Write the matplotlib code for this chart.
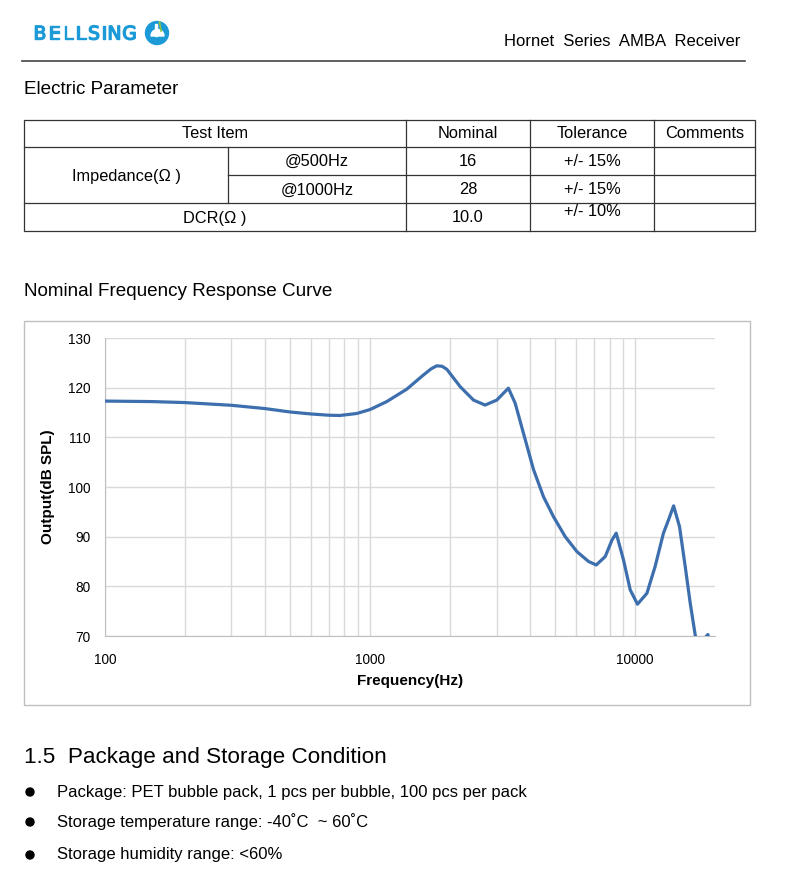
import matplotlib.pyplot as plt
import matplotlib.patheffects as pe
from matplotlib.patches import Circle, Rectangle, Wedge
from matplotlib.ticker import FixedLocator, NullFormatter

plt.rcParams["font.family"] = ["Liberation Sans", "DejaVu Sans"]

W, H = 790, 880
BLUE_LINE = "#3d6fae"
GRID = "#d9d9d9"
LOGO = "#1b9ad7"

# frequency response
freq = [100, 150, 200, 300, 400, 500, 600, 700, 770, 890, 1000, 1156, 1375,
        1589, 1700, 1785, 1870, 1947, 2187, 2455, 2715, 3005, 3325, 3527, 3790,
        4135, 4508, 4920, 5445, 6026, 6668, 7130, 7710, 8170, 8480, 9035, 9575,
        10200, 11070, 11890, 12780, 13360, 13960, 14700, 15440, 16130, 16840,
        17400, 18200, 18800, 19300]
spl = [117.3, 117.2, 117.0, 116.45, 115.8, 115.1, 114.7, 114.45, 114.4, 114.8,
       115.6, 117.2, 119.7, 122.55, 123.8, 124.4, 124.3, 123.7, 120.2, 117.5,
       116.5, 117.5, 119.9, 116.85, 110.8, 103.5, 98.05, 94.0, 90.0, 87.0, 85.0,
       84.3, 86.0, 89.3, 90.7, 85.3, 79.3, 76.4, 78.6, 84.0, 90.7, 93.4, 96.2,
       92.0, 84.0, 76.6, 70.2, 67.5, 69.4, 70.3, 68.0]
y_ticks = [70, 80, 90, 100, 110, 120, 130]
x_ticks = [100, 1000, 10000]

table_header = ["Test Item", "Nominal", "Tolerance", "Comments"]
imp_rows = [("@500Hz", "16", "+/- 15%"), ("@1000Hz", "28", "+/- 15%")]
dcr_row = ("DCR(Ω )", "10.0", "+/- 10%")
bullets = [
    "Package: PET bubble pack, 1 pcs per bubble, 100 pcs per pack",
    "Storage temperature range: -40\u02daC  ~ 60\u02daC",
    "Storage humidity range: <60%",
]

fig = plt.figure(figsize=(W / 100, H / 100), dpi=100)
page = fig.add_axes([0, 0, 1, 1])
page.set_xlim(0, W)
page.set_ylim(H, 0)
page.axis("off")

# header: logo letters spaced out like the wide logotype
logo_x = [40, 54.5, 68, 80.5, 94, 104, 114.5, 129.5]
for x, ch in zip(logo_x, "BELLSING"):
    page.text(x, 34, ch, color=LOGO, fontsize=13.5, family="DejaVu Sans",
              ha="center", va="center",
              path_effects=[pe.withStroke(linewidth=1.0, foreground=LOGO)])
page.add_patch(Circle((157, 33), 11.5, color=LOGO))
page.add_patch(Wedge((157.5, 36), 6.5, 180, 360, color="white"))
page.add_patch(Rectangle((154.5, 24), 2.8, 12, color="white"))
page.plot([159.5, 161], [22, 31], color="#8cc63f", lw=1.2)
page.text(740, 42, "Hornet  Series  AMBA  Receiver", fontsize=12, ha="right", va="center")
page.plot([22, 745], [61, 61], color="#444444", lw=1.2)

# electric parameter table
page.text(24, 89, "Electric Parameter", fontsize=13.6, va="center")
cols = [24, 228, 406, 530, 654, 755]
rows = [120, 147, 175, 203, 231]
lc = "#333333"
page.add_patch(Rectangle((cols[0], rows[0]), cols[-1] - cols[0], rows[-1] - rows[0],
                         fill=False, ec=lc, lw=0.9))
for y in [rows[1], rows[3]]:
    page.plot([cols[0], cols[-1]], [y, y], color=lc, lw=0.9)
page.plot([cols[1], cols[-1]], [rows[2], rows[2]], color=lc, lw=0.9)
page.plot([cols[1], cols[1]], [rows[1], rows[3]], color=lc, lw=0.9)
for x in cols[2:5]:
    page.plot([x, x], [rows[0], rows[-1]], color=lc, lw=0.9)

fs = 11.8
centers = [(cols[0] + cols[2]) / 2, (cols[2] + cols[3]) / 2,
           (cols[3] + cols[4]) / 2, (cols[4] + cols[5]) / 2]
for cx, label in zip(centers, table_header):
    page.text(cx, 134, label, fontsize=fs, ha="center", va="center")
page.text((cols[0] + cols[1]) / 2, 176, "Impedance(Ω )", fontsize=fs, ha="center", va="center")
for (freq_lbl, nom, tol), y in zip(imp_rows, [161, 190]):
    page.text((cols[1] + cols[2]) / 2, y, freq_lbl, fontsize=fs, ha="center", va="center")
    page.text(centers[1], y, nom, fontsize=fs, ha="center", va="center")
    page.text(centers[2], y, tol, fontsize=fs, ha="center", va="center")
page.text(centers[0], 218, dcr_row[0], fontsize=fs, ha="center", va="center")
page.text(centers[1], 218, dcr_row[1], fontsize=fs, ha="center", va="center")
page.text(centers[2], 212, dcr_row[2], fontsize=fs, ha="center", va="center")

# chart block
page.text(24, 291, "Nominal Frequency Response Curve", fontsize=13.6, va="center")
page.add_patch(Rectangle((24, 321), 726, 384, fill=False, ec="#bfbfbf", lw=1.0))

ax = fig.add_axes([105 / W, 1 - 636 / H, 610 / W, 298 / H])
ax.semilogx(freq, spl, color=BLUE_LINE, lw=2.3, solid_capstyle="round",
            solid_joinstyle="round", zorder=3)
ax.set_xlim(100, 20000)
ax.set_ylim(70, 130)
ax.set_yticks(y_ticks)
ax.xaxis.set_major_locator(FixedLocator(x_ticks))
ax.xaxis.set_minor_locator(FixedLocator(
    [m * d for d in [100, 1000, 10000] for m in range(2, 10) if m * d < 20000]))
ax.xaxis.set_minor_formatter(NullFormatter())
ax.set_xticklabels([str(t) for t in x_ticks])
ax.grid(True, which="both", color=GRID, lw=1.0)
ax.tick_params(which="both", length=0, labelsize=9.8, pad=12)
ax.tick_params(axis="y", pad=10.5)
for s in ["top", "right"]:
    ax.spines[s].set_visible(False)
for s in ["left", "bottom"]:
    ax.spines[s].set_color("#bfbfbf")
ax.set_xlabel("Frequency(Hz)", fontsize=11, fontweight="bold", labelpad=5)
ax.set_ylabel("Output(dB SPL)", fontsize=11, fontweight="bold", labelpad=9)

# package section
page.text(24, 757, "1.5  Package and Storage Condition", fontsize=16.2, va="center")
for y, line in zip([792, 822, 855], bullets):
    page.add_patch(Circle((30, y), 4, color="black"))
    page.text(57, y, line, fontsize=12, va="center")

fig.savefig("out.png", dpi=100, facecolor="white")
